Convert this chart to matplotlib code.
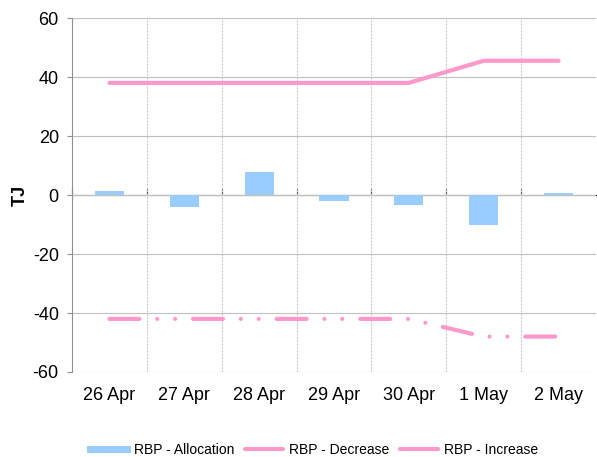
import matplotlib
matplotlib.use("Agg")
import matplotlib.pyplot as plt
import numpy as np
from matplotlib.lines import Line2D

plt.rcParams["font.family"] = ["Liberation Sans", "DejaVu Sans"]
plt.rcParams["axes.unicode_minus"] = False

dates = ["26 Apr", "27 Apr", "28 Apr", "29 Apr", "30 Apr", "1 May", "2 May"]
allocation = [1.2, -4.0, 7.9, -2.0, -3.3, -10.3, 0.6]
decrease = [-42, -42, -42, -42, -42, -48, -48]
increase = [38, 38, 38, 38, 38, 45.5, 45.5]
yticks = [-60, -40, -20, 0, 20, 40, 60]

blue = "#99ccff"
pink = "#ff99cc"

fig = plt.figure(figsize=(5.97, 4.57), dpi=100)
ax = fig.add_axes([72 / 597, 1 - 372 / 457, (596 - 72) / 597, (372 - 18) / 457])

x = np.arange(len(dates))
ax.bar(x, allocation, width=0.39, color=blue, zorder=3)
ax.plot(x, increase, color=pink, lw=3, solid_capstyle="round", zorder=4)
ax.plot(x, decrease, color=pink, lw=3, dash_capstyle="round", zorder=4,
        linestyle=(0, (7.2, 4.27, 0.01, 4.27, 0.01, 4.3)))

ax.set_xlim(-0.5, len(dates) - 0.5)
ax.set_ylim(-60, 60)
ax.set_yticks(yticks)
ax.set_yticklabels([str(v) for v in yticks], fontsize=13)
ax.set_ylabel("TJ", fontsize=13, fontweight="bold")
ax.yaxis.set_label_coords(-0.083, 0.5)

# category labels under the plot, boundaries as grid
ax.set_xticks(x)
ax.set_xticklabels(dates, fontsize=13)
ax.tick_params(axis="x", length=0, pad=11)
bounds = np.arange(len(dates) + 1) - 0.5
for b in bounds[1:]:
    ax.axvline(b, color="#cccccc", lw=0.8, ls=(0, (2, 1)), zorder=1)
ax.grid(axis="y", color="#c0c0c0", lw=0.8, zorder=1)
ax.tick_params(axis="y", length=3.5, color="#909090", pad=6)

for side in ["top", "right", "bottom"]:
    ax.spines[side].set_visible(False)
ax.spines["left"].set_color("#909090")

# category axis crossing at zero
sec = ax.secondary_xaxis(0.5)
sec.set_xticks(bounds[:-1])
sec.set_xticklabels([""] * (len(bounds) - 1))
sec.tick_params(length=4, direction="out", color="black")
sec.spines["bottom"].set_color("black")
sec.spines["bottom"].set_linewidth(1.0)

handles = [
    Line2D([], [], color=blue, lw=5),
    Line2D([], [], color=pink, lw=3, solid_capstyle="round"),
    Line2D([], [], color=pink, lw=3, solid_capstyle="round"),
]
fig.legend(handles, ["RBP - Allocation", "RBP - Decrease", "RBP - Increase"],
           loc="center", bbox_to_anchor=(314 / 597, 1 - 450 / 457), ncol=3,
           frameon=False, fontsize=10, handlelength=2.7, columnspacing=0.8,
           handletextpad=0.45)

fig.savefig("out.png", dpi=100)
